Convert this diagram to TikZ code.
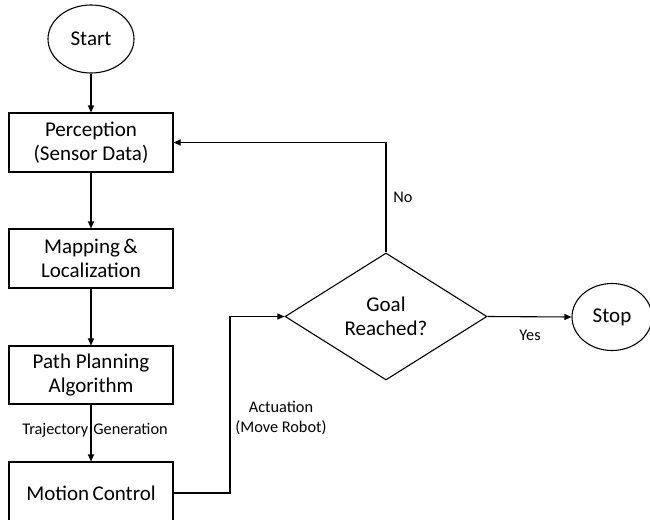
\documentclass[tikz,border=0pt]{standalone}
\usepackage{fontspec}
\setmainfont{Carlito}
\usetikzlibrary{shapes.geometric,arrows.meta}
\begin{document}
\begin{tikzpicture}[x=1pt,y=-1pt,
  every node/.style={font=\fontsize{21}{24}\selectfont},
  box/.style={draw,line width=1.1pt,minimum width=164pt,inner sep=0pt,align=center},
  term/.style={draw,ellipse,line width=1.1pt,inner sep=0pt},
  decision/.style={draw,diamond,line width=1.1pt,inner sep=0pt,aspect=1.59,align=center},
  lbl/.style={font=\fontsize{16.3}{19.5}\selectfont,align=center,inner sep=1pt},
  flow/.style={line width=1.1pt,-{Triangle[length=7pt,width=6pt]}},
  link/.style={line width=1.1pt}]
\useasboundingbox (0,0) rectangle (650,519);
\clip (0,0) rectangle (650,519);
% terminals
\node[term,minimum width=86pt,minimum height=68pt] (start) at (91,39) {Start};
\node[term,minimum width=80pt,minimum height=67pt] (stop) at (612,317) {Stop};
% process boxes
\node[box,minimum height=59pt] (percep) at (91,142.5) {Perception\\(Sensor Data)};
\node[box,minimum height=59pt] (mapping) at (91,258.5) {Mapping\,\&\\Localization};
\node[box,minimum height=58pt] (plan) at (91,375) {Path Planning\\Algorithm};
\node[box,minimum height=62pt] (motion) at (91,493) {Motion\,Control};
% decision
\node[decision,minimum width=202pt,minimum height=127pt] (goal) at (386,316.5) {Goal\\Reached?};
% connectors
\draw[flow] (start) -- (percep);
\draw[flow] (percep) -- (mapping);
\draw[flow] (mapping) -- (plan);
\node[lbl] (traj) at (95,430) {Trajectory\hspace{5pt}Generation};
\draw[flow] (plan) -- (motion);
\coordinate (bendA) at (230,493);
\coordinate (bendB) at (230,316.5);
\draw[flow] (motion.east) -- (bendA) -- (bendB) -- (goal.west);
\node[lbl] (act) at (281,418) {Actuation\\(Move Robot)};
\coordinate (bendC) at (386,142.5);
\draw[flow] (goal.north) -- (bendC) -- (percep.east);
\node[lbl] (no) at (403,197) {No};
\draw[flow] (goal.east) -- (stop.west);
\node[lbl] (yes) at (530,335) {Yes};
\end{tikzpicture}
\end{document}
